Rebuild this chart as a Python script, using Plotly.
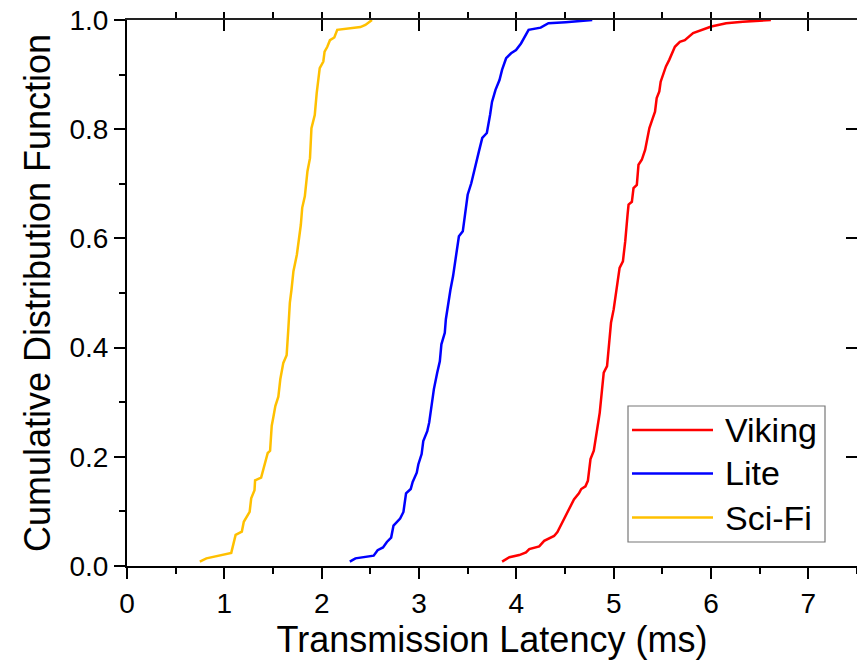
import plotly.graph_objects as go

# ---------------- data ----------------
series_names = ["Viking", "Lite", "Sci-Fi"]

viking_latency = [3.854, 3.929, 4.03, 4.099, 4.133, 4.235, 4.286, 4.388, 4.422, 4.473,
                  4.524, 4.592, 4.643, 4.667, 4.71, 4.735, 4.762, 4.796, 4.83, 4.857,
                  4.881, 4.898, 4.932, 4.949, 4.973, 5.0, 5.027, 5.041, 5.061, 5.095,
                  5.119, 5.143, 5.153, 5.187, 5.204, 5.238, 5.255, 5.289, 5.323, 5.347,
                  5.367, 5.401, 5.425, 5.442, 5.469, 5.483, 5.503, 5.537, 5.571, 5.629,
                  5.68, 5.731, 5.816, 5.901, 6.003, 6.156, 6.327, 6.615]
viking_cdf = [0.008, 0.016, 0.02, 0.025, 0.031, 0.036, 0.046, 0.055, 0.062, 0.08,
              0.098, 0.122, 0.133, 0.141, 0.146, 0.156, 0.196, 0.211, 0.25, 0.281,
              0.324, 0.354, 0.366, 0.397, 0.446, 0.47, 0.506, 0.528, 0.546, 0.558,
              0.595, 0.644, 0.662, 0.667, 0.692, 0.698, 0.735, 0.744, 0.762, 0.784,
              0.802, 0.82, 0.832, 0.857, 0.869, 0.887, 0.899, 0.915, 0.927, 0.951,
              0.96, 0.963, 0.976, 0.982, 0.988, 0.994, 0.997, 1.0]

lite_latency = [2.289, 2.347, 2.534, 2.575, 2.63, 2.67, 2.714, 2.738, 2.806, 2.84,
                2.867, 2.915, 2.935, 2.977, 2.993, 3.027, 3.044, 3.085, 3.105, 3.13,
                3.153, 3.187, 3.214, 3.23, 3.265, 3.276, 3.30, 3.323, 3.35, 3.378,
                3.41, 3.45, 3.48, 3.50, 3.537, 3.58, 3.615, 3.65, 3.697, 3.73,
                3.75, 3.786, 3.827, 3.854, 3.895, 3.946, 3.997, 4.048, 4.126, 4.25,
                4.33, 4.507, 4.78]
lite_cdf = [0.008, 0.014, 0.019, 0.029, 0.034, 0.044, 0.052, 0.074, 0.087, 0.099,
            0.133, 0.141, 0.154, 0.171, 0.186, 0.205, 0.229, 0.247, 0.263, 0.293,
            0.324, 0.354, 0.375, 0.406, 0.427, 0.452, 0.482, 0.506, 0.531, 0.567,
            0.604, 0.613, 0.659, 0.68, 0.701, 0.735, 0.759, 0.784, 0.793, 0.826,
            0.85, 0.872, 0.89, 0.909, 0.93, 0.939, 0.945, 0.957, 0.982, 0.986,
            0.994, 0.996, 1.0]

scifi_latency = [0.748, 0.816, 1.071, 1.089, 1.116, 1.18, 1.20, 1.26, 1.276, 1.31,
                 1.316, 1.378, 1.418, 1.446, 1.47, 1.487, 1.503, 1.524, 1.555, 1.575,
                 1.606, 1.64, 1.657, 1.673, 1.69, 1.71, 1.745, 1.76, 1.786, 1.80,
                 1.827, 1.854, 1.88, 1.895, 1.929, 1.949, 1.962, 1.98, 2.017, 2.03,
                 2.058, 2.085, 2.13, 2.153, 2.16, 2.398, 2.449, 2.517]
scifi_cdf = [0.008, 0.014, 0.024, 0.040, 0.057, 0.063, 0.081, 0.099, 0.124, 0.139,
             0.157, 0.162, 0.19, 0.207, 0.211, 0.257, 0.272, 0.293, 0.31, 0.342,
             0.372, 0.386, 0.433, 0.482, 0.506, 0.54, 0.57, 0.589, 0.625, 0.656,
             0.677, 0.723, 0.747, 0.802, 0.826, 0.866, 0.887, 0.912, 0.924, 0.942,
             0.951, 0.963, 0.968, 0.98, 0.982, 0.987, 0.991, 1.0]

x_tick_vals = [0, 1, 2, 3, 4, 5, 6, 7]
y_tick_vals = [0.0, 0.2, 0.4, 0.6, 0.8, 1.0]
x_title = "Transmission Latency (ms)"
y_title = "Cumulative Distribution Function"

# ---------------- style ----------------
colors = ["#FF0000", "#0000FF", "#FFC000"]
FONT = "Arial, Liberation Sans, sans-serif"
W, H = 857, 660
ML, MR, MT, MB = 127, 0, 20, 94
X_RANGE = [0, 7.5]
Y_RANGE = [0, 1]

def paper_x(px):
    return (px - ML) / (W - ML - MR)

def paper_y(py):
    return (H - MB - py) / (H - MT - MB)

fig = go.Figure()
data = [(viking_latency, viking_cdf), (lite_latency, lite_cdf), (scifi_latency, scifi_cdf)]
for name, (xs, ys), c in zip(series_names, data, colors):
    fig.add_trace(go.Scatter(x=xs, y=ys, mode="lines", name=name,
                             line=dict(color=c, width=2.5), showlegend=False))

# empty helper trace so the top/right mirror axes get drawn
fig.add_trace(go.Scatter(x=[None], y=[None], xaxis="x2", yaxis="y2",
                         showlegend=False, hoverinfo="skip"))

major = dict(ticklen=11, tickwidth=2, tickcolor="black")
minor_x = dict(dtick=0.5, ticklen=6, tickwidth=1.6, tickcolor="black", showgrid=False)
minor_y = dict(dtick=0.1, ticklen=6, tickwidth=1.6, tickcolor="black", showgrid=False)

fig.update_layout(
    width=W, height=H,
    margin=dict(l=ML, r=MR, t=MT, b=MB),
    paper_bgcolor="white", plot_bgcolor="white",
    font=dict(family=FONT, color="black"),
    showlegend=False,
    xaxis=dict(range=X_RANGE, tickvals=x_tick_vals, ticks="outside", **major,
               minor=minor_x, showline=True, linecolor="black", linewidth=2,
               showgrid=False, zeroline=False,
               tickfont=dict(size=28, family=FONT),
               title=dict(text=x_title, font=dict(size=36, family=FONT), standoff=6)),
    yaxis=dict(range=Y_RANGE, tickvals=y_tick_vals, tickformat=".1f", ticks="outside",
               **major, minor=minor_y, showline=True, linecolor="black", linewidth=2,
               showgrid=False, zeroline=False,
               tickfont=dict(size=28, family=FONT),
               title=dict(text=y_title, font=dict(size=36, family=FONT), standoff=8)),
    xaxis2=dict(range=X_RANGE, overlaying="x", side="top", anchor="y",
                tickvals=x_tick_vals, ticks="inside", **major, minor=minor_x,
                showticklabels=False, showline=True, linecolor="#222", linewidth=2,
                showgrid=False, zeroline=False),
    yaxis2=dict(range=Y_RANGE, overlaying="y", side="right", anchor="x",
                tickvals=y_tick_vals, ticks="inside", **major, minor=minor_y,
                showticklabels=False, showline=False, showgrid=False, zeroline=False),
)

# ---------------- legend box (drawn like the reference: long line samples) ----------------
box_l, box_r, box_t, box_b = 628, 825, 406, 542
row_y = [430, 473.5, 517.5]
line_x0, line_x1, text_x = 632, 713, 723

fig.add_shape(type="rect", xref="paper", yref="paper",
              x0=paper_x(box_l), x1=paper_x(box_r), y0=paper_y(box_b), y1=paper_y(box_t),
              line=dict(color="#777777", width=1.2), fillcolor="white", layer="above")
for name, c, ry in zip(series_names, colors, row_y):
    fig.add_shape(type="line", xref="paper", yref="paper",
                  x0=paper_x(line_x0), x1=paper_x(line_x1), y0=paper_y(ry), y1=paper_y(ry),
                  line=dict(color=c, width=2.5), layer="above")
    fig.add_annotation(xref="paper", yref="paper", x=paper_x(text_x), y=paper_y(ry),
                       text=name, showarrow=False, xanchor="left", yanchor="middle",
                       font=dict(size=34, family=FONT, color="black"))

fig.write_html("out.html")
